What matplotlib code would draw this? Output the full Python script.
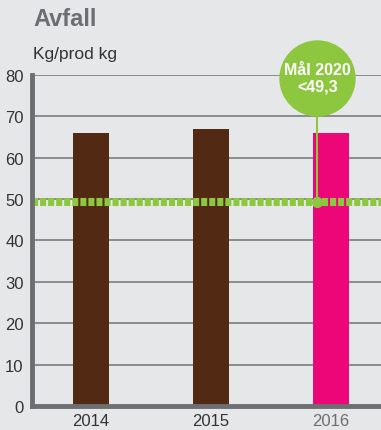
import numpy as np
import matplotlib.pyplot as plt

# data
years = ["2014", "2015", "2016"]
kg_per_kg = [66, 67, 66]
target_2020 = 49.3
target_label = "Mål 2020\n<49,3"
yticks = [0, 10, 20, 30, 40, 50, 60, 70, 80]

# colours
bg = "#e6e7e8"
grey = "#6d6e71"
green = "#8dc63f"
bar_colors = ["#522a14", "#522a14", "#ec0677"]

plt.rcParams["font.family"] = ["Liberation Sans", "DejaVu Sans"]

fig = plt.figure(figsize=(3.81, 4.31), dpi=100, facecolor=bg)
ax = fig.add_axes([0.084, 0.0557, 0.916, 0.768])
ax.set_facecolor(bg)

x = np.arange(len(years))
ax.bar(x, kg_per_kg, width=0.3, color=bar_colors, zorder=3)

# target line, dotted in green squares
ax.axhline(target_2020, color=green, lw=5.8, dashes=(0.75, 0.25),
           solid_capstyle="butt", dash_capstyle="butt", zorder=4)

# marker bubble for the 2020 goal
bx = 1.89
by = 79.3
ax.plot([bx, bx], [target_2020, by], color=green, lw=1.5, zorder=5, clip_on=False)
ax.plot(bx, target_2020, "o", color=green, ms=7, zorder=6)
ax.plot(bx, by, "o", color=green, ms=54, zorder=6, clip_on=False)
ax.text(bx, by, target_label, ha="center", va="center", color="white",
        fontsize=11.5, fontweight="bold", linespacing=1.1, zorder=7, clip_on=False)

ax.set_xlim(-0.49, 2.42)
ax.set_ylim(0, 80)
ax.set_yticks(yticks)
ax.set_xticks(x)
ax.set_xticklabels(years)
ax.yaxis.grid(True, color="#8a8b8d", lw=1.4, zorder=1)
ax.tick_params(axis="both", length=0, labelsize=12, colors="#333333")
ax.tick_params(axis="y", pad=6)
ax.tick_params(axis="x", pad=5)
ax.get_xticklabels()[2].set_color(grey)

for side in ["top", "right"]:
    ax.spines[side].set_visible(False)
for side in ["left", "bottom"]:
    ax.spines[side].set_color(grey)
    ax.spines[side].set_linewidth(3.5)
    ax.spines[side].set_zorder(8)

fig.text(0.087, 0.955, "Avfall", fontsize=17, fontweight="bold", color=grey,
         ha="left", va="center")
fig.text(0.087, 0.874, "Kg/prod kg", fontsize=12.5, color="#333333",
         ha="left", va="center")

fig.savefig("out.png", dpi=100, facecolor=bg)
